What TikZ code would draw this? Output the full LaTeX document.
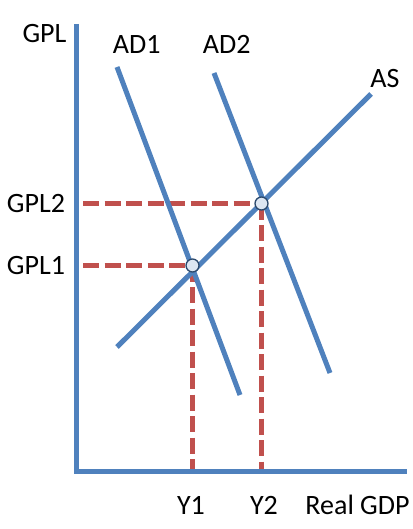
\documentclass[tikz,border=0pt]{standalone}
\usepackage{fontspec}
\setmainfont{Carlito}
\definecolor{lineblue}{HTML}{4F81BD}
\definecolor{dashred}{HTML}{C0504D}
\definecolor{ptfill}{HTML}{DCE6F2}
\definecolor{ptdraw}{HTML}{2C4A6E}
\begin{document}
\begin{tikzpicture}[x=1bp,y=-1bp,
  curve/.style={draw=lineblue,line width=5bp},
  guide/.style={draw=dashred,line width=5bp,dash pattern=on 16bp off 5.5bp},
  pt/.style={circle,draw=ptdraw,fill=ptfill,line width=1.3bp,minimum size=13bp,inner sep=0pt},
  lbl/.style={font=\fontsize{28bp}{31bp}\selectfont,inner sep=0pt,text=black}]
\useasboundingbox (0,0) rectangle (412,529);
% coordinates
\coordinate (O) at (76,471);
\coordinate (ytop) at (76,24);
\coordinate (xend) at (407,471);
\coordinate (ad1a) at (117,67);
\coordinate (ad1b) at (240,395);
\coordinate (ad2a) at (214,73);
\coordinate (ad2b) at (330,373);
\coordinate (asa) at (117,347);
\coordinate (asb) at (371,94);
\coordinate (e1) at (192.5,265.5);
\coordinate (e2) at (261.5,203.5);
\coordinate (g1) at (83,265.5);
\coordinate (g2) at (83,203.5);
\coordinate (y1) at (192.5,471);
\coordinate (y2) at (261.5,471);
% guides
\draw[guide] (g2) -- (e2);
\draw[guide] (g1) -- (e1);
\draw[guide] (e1) -- (y1);
\draw[guide] (e2) -- (y2);
% axes
\draw[curve] (ytop) -- (O) -- (xend);
% curves
\draw[curve] (ad1a) -- (ad1b);
\draw[curve] (ad2a) -- (ad2b);
\draw[curve] (asa) -- (asb);
% equilibrium points
\node[pt] (p1) at (e1) {};
\node[pt] (p2) at (e2) {};
% labels
\node[lbl] (lgpl) at (44.5,34) {GPL};
\node[lbl] (lad1) at (136.7,44) {AD1};
\node[lbl] (lad2) at (226.7,44) {AD2};
\node[lbl] (las) at (385,78.5) {AS};
\node[lbl] (lgpl2) at (36,203.5) {GPL2};
\node[lbl] (lgpl1) at (36,265.5) {GPL1};
\node[lbl] (ly1) at (191,505) {Y1};
\node[lbl] (ly2) at (264,505) {Y2};
\node[lbl] (lgdp) at (357.5,505) {Real GDP};
\end{tikzpicture}
\end{document}
